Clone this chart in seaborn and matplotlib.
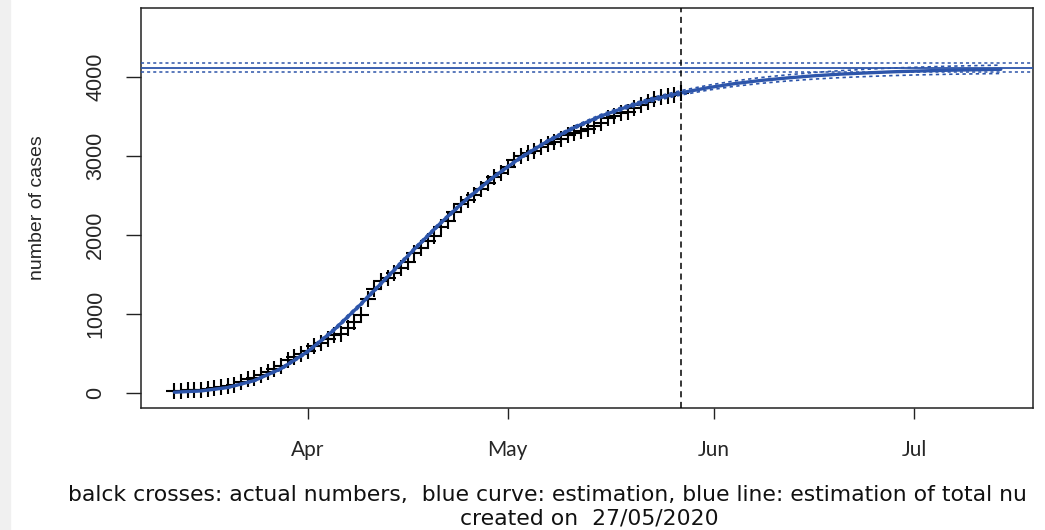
import pandas as pd
import matplotlib
matplotlib.use("Agg")
import matplotlib.pyplot as plt
import seaborn as sns

# observed cumulative cases, one per day from the start date
obs_start = "2020-03-12"
cases = [16, 19, 30, 32, 39, 50, 58, 73, 85, 103, 131, 167, 187, 226, 261, 300,
         343, 408, 447, 492,
         525, 585, 623, 678, 733, 744, 817, 895, 980, 1190, 1310, 1410, 1458, 1512,
         1579, 1652, 1763, 1834, 1916, 1984, 2098, 2168, 2284, 2383, 2443, 2500,
         2583, 2649, 2727, 2775,
         2863, 2942, 2998, 3035, 3065, 3111, 3150, 3178, 3213, 3263, 3284, 3313,
         3341, 3380, 3417, 3473, 3509, 3535, 3556, 3598, 3641, 3678, 3713, 3741,
         3756, 3771, 3793]

# estimated curve and its band, every 4 days
est_start = "2020-03-12"
est = [6, 22, 65, 153, 303, 520, 798, 1121, 1467, 1816, 2152, 2461, 2737, 2978,
       3184, 3357, 3502, 3621, 3718, 3796, 3860, 3912, 3953, 3985, 4012, 4033,
       4049, 4063, 4073, 4082, 4088, 4094]
est_lo = [3, 18, 58, 142, 288, 502, 778, 1100, 1446, 1796, 2133, 2443, 2720, 2961,
          3166, 3338, 3481, 3598, 3692, 3768, 3829, 3878, 3916, 3946, 3970, 3989,
          4003, 4015, 4024, 4031, 4036, 4041]
est_hi = [8, 26, 72, 164, 318, 538, 818, 1142, 1488, 1836, 2171, 2479, 2754, 2995,
          3202, 3376, 3523, 3644, 3744, 3824, 3891, 3946, 3990, 4024, 4054, 4077,
          4095, 4111, 4122, 4133, 4140, 4147]

total_est = 4114
total_lo = 4063
total_hi = 4173
created = "2020-05-27"

month_ticks = ["2020-04-01", "2020-05-01", "2020-06-01", "2020-07-01"]
month_labels = ["Apr", "May", "Jun", "Jul"]
y_ticks = [0, 1000, 2000, 3000, 4000]

caption_1 = "balck crosses: actual numbers,  blue curve: estimation, blue line: estimation of total nu"
caption_2 = "created on  27/05/2020"

obs = pd.DataFrame({"date": pd.date_range(obs_start, periods=len(cases), freq="D"),
                    "cases": cases})
fit = pd.DataFrame({"date": pd.date_range(est_start, periods=len(est), freq="4D"),
                    "est": est, "lo": est_lo, "hi": est_hi})

sns.set_style("ticks")
arial = ["Liberation Sans", "DejaVu Sans"]
plt.rcParams["font.family"] = arial

fig = plt.figure(figsize=(10.45, 5.30), dpi=100)
ax = fig.add_axes([141 / 1045, 122 / 530, 892 / 1045, 400 / 530])
blue = "#2d55aa"

sns.scatterplot(data=obs, x="date", y="cases", marker="+", s=135, color="black",
                linewidth=1.5, ax=ax, zorder=2)
sns.lineplot(data=fit, x="date", y="est", color=blue, lw=2.4, ax=ax, zorder=3)
sns.lineplot(data=fit, x="date", y="lo", color=blue, lw=1.2, linestyle=(0, (2, 2)),
             ax=ax, zorder=3)
sns.lineplot(data=fit, x="date", y="hi", color=blue, lw=1.2, linestyle=(0, (2, 2)),
             ax=ax, zorder=3)

ax.axhline(total_est, color=blue, lw=1.3, zorder=3)
ax.axhline(total_lo, color=blue, lw=1.1, ls=(0, (2, 2)), zorder=3)
ax.axhline(total_hi, color=blue, lw=1.1, ls=(0, (2, 2)), zorder=3)
ax.axvline(pd.Timestamp(created), color="black", lw=1.1, ls=(0, (4, 3)), zorder=3)

ax.set_xlim(pd.Timestamp("2020-03-07"), pd.Timestamp("2020-07-18 20:00"))
ax.set_ylim(-194, 4870)

ax.set_xticks(pd.to_datetime(month_ticks))
ax.set_xticklabels(month_labels, fontfamily=["Lato", "DejaVu Sans"], fontsize=15)
ax.set_yticks(y_ticks)
ax.set_yticklabels([str(v) for v in y_ticks], fontsize=15.5, rotation=90,
                   va="center", ha="right", fontfamily=arial)
ax.tick_params(axis="x", length=8, width=1.0, pad=15, color="#222222")
ax.tick_params(axis="y", length=11, width=1.0, pad=14, color="#222222")

for s in ax.spines.values():
    s.set_visible(True)
    s.set_linewidth(1.1)
    s.set_color("#222222")

ax.set_xlabel("")
ax.set_ylabel("number of cases", fontsize=14, fontfamily=arial)
ax.yaxis.set_label_coords(-0.1065, 0.5)

fig.text(68 / 1045, 35 / 530, caption_1,
         ha="left", va="center", fontsize=15.75, family="DejaVu Sans", color="#111111")
fig.text(589 / 1045, 11 / 530, caption_2,
         ha="center", va="center", fontsize=15.75, family="DejaVu Sans", color="#111111")

fig.patches.append(plt.Rectangle((0, 0), 10 / 1045, 1, transform=fig.transFigure,
                                 color="#f0f0f0", zorder=-1))

fig.savefig("out.png", dpi=100)
